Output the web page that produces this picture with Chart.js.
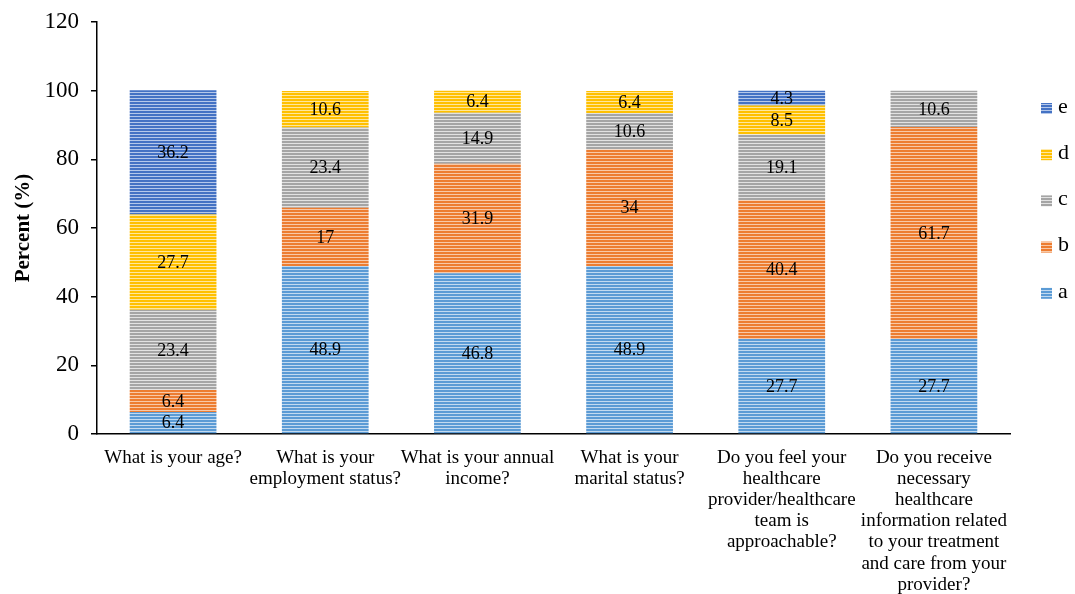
<!DOCTYPE html>
<html>
<head>
<meta charset="utf-8">
<script src="https://cdn.jsdelivr.net/npm/chart.js@4"></script>
<style>
    html, body { margin: 0; padding: 0; background: #fff; }
    #wrap { width: 1075px; height: 594px; }
</style>
</head>
<body>
<div id="wrap"><canvas id="myChart" width="1075" height="594"></canvas></div>
<script>
// 데이터
var questions = [
    "What is your age?",
    ["What is your", "employment status?"],
    ["What is your annual", "income?"],
    ["What is your", "marital status?"],
    ["Do you feel your", "healthcare", "provider/healthcare", "team is", "approachable?"],
    ["Do you receive", "necessary", "healthcare", "information related", "to your treatment", "and care from your", "provider?"]
];
var seriesNames = ["a", "b", "c", "d", "e"];
var valuesA = [6.4, 48.9, 46.8, 48.9, 27.7, 27.7];
var valuesB = [6.4, 17, 31.9, 34, 40.4, 61.7];
var valuesC = [23.4, 23.4, 14.9, 10.6, 19.1, 10.6];
var valuesD = [27.7, 10.6, 6.4, 6.4, 8.5, 0];
var valuesE = [36.2, 0, 0, 0, 4.3, 0];
var yTicks = [0, 20, 40, 60, 80, 100, 120];

var colors = ["#5b9bd5", "#ed7d31", "#a5a5a5", "#ffc000", "#4472c4"];
var lightColors = ["#c2daf0", "#f8c9a8", "#e2e2e2", "#ffe79c", "#b5c8ea"];

// 가로 줄무늬 패턴
function stripe(c, light) {
    var p = document.createElement('canvas');
    p.width = 4; p.height = 3;
    var g = p.getContext('2d');
    g.fillStyle = c;
    g.fillRect(0, 0, 4, 2);
    g.fillStyle = light;
    g.fillRect(0, 2, 4, 1);
    return document.getElementById("myChart").getContext('2d').createPattern(p, 'repeat');
}

var allValues = [valuesA, valuesB, valuesC, valuesD, valuesE];
var datasets = seriesNames.map(function (n, i) {
    return {
        label: n,
        data: allValues[i],
        backgroundColor: stripe(colors[i], lightColors[i]),
        borderWidth: 0,
        barPercentage: 0.57,
        categoryPercentage: 1.0
    };
});

var serif = "'Liberation Serif', 'Times New Roman', serif";

// 막대 안 숫자
var valueLabels = {
    id: 'valueLabels',
    afterDatasetsDraw: function (chart) {
        var ctx = chart.ctx;
        ctx.save();
        ctx.font = "18px " + serif;
        ctx.fillStyle = "#000";
        ctx.textAlign = "center";
        ctx.textBaseline = "middle";
        chart.data.datasets.forEach(function (ds, i) {
            chart.getDatasetMeta(i).data.forEach(function (bar, j) {
                var v = ds.data[j];
                if (!v) return;
                ctx.fillText(String(v), bar.x, (bar.y + bar.base) / 2 + 1);
            });
        });
        ctx.restore();
    }
};

// 오른쪽 범례 (e -> a)
var sideLegend = {
    id: 'sideLegend',
    afterDraw: function (chart) {
        var ctx = chart.ctx;
        var x = chart.chartArea.right + 31;
        ctx.save();
        ctx.font = "22px " + serif;
        ctx.textBaseline = "middle";
        ctx.textAlign = "left";
        var n = chart.data.datasets.length;
        for (var k = 0; k < n; k++) {
            var i = n - 1 - k;
            var y = 108 + k * 46.2;
            ctx.fillStyle = chart.data.datasets[i].backgroundColor;
            ctx.fillRect(x, y - 5, 11, 11);
            ctx.fillStyle = "#000";
            ctx.fillText(chart.data.datasets[i].label, x + 17, y - 1);
        }
        ctx.restore();
    }
};

new Chart(document.getElementById("myChart").getContext('2d'), {
    type: "bar",
    data: { labels: questions, datasets: datasets },
    plugins: [valueLabels, sideLegend],
    options: {
        responsive: false,
        animation: false,
        layout: { padding: { top: 22, right: 65, left: 0, bottom: 0 } },
        plugins: {
            legend: { display: false },
            tooltip: { enabled: false }
        },
        scales: {
            x: {
                stacked: true,
                grid: { display: false, drawTicks: false },
                border: { display: true, color: "#000", width: 1.5 },
                ticks: {
                    color: "#000",
                    font: { family: serif, size: 19, lineHeight: 1.115 },
                    maxRotation: 0,
                    autoSkip: false,
                    padding: 13
                },
                afterFit: function (s) { s.height = 160; }
            },
            y: {
                stacked: true,
                min: 0,
                max: 120,
                afterBuildTicks: function (s) {
                    s.ticks = yTicks.map(function (v) { return { value: v }; });
                },
                grid: { drawOnChartArea: false, drawTicks: true, tickLength: 6, color: "#000", lineWidth: 1.5 },
                border: { display: true, color: "#000", width: 1.5 },
                ticks: {
                    color: "#000",
                    font: { family: serif, size: 23 },
                    padding: 12
                },
                title: {
                    display: true,
                    text: "Percent (%)",
                    color: "#000",
                    font: { family: serif, size: 21, weight: "bold" },
                    padding: { top: 11, bottom: 0 }
                },
                afterFit: function (s) {
                    s.width = 97;
                    s.paddingTop = 0;
                    s.paddingBottom = 0;
                }
            }
        }
    }
});
</script>
</body>
</html>
